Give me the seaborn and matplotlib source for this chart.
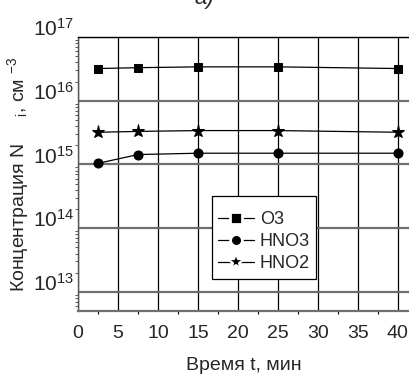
import numpy as np
import pandas as pd
import seaborn as sns
import matplotlib
matplotlib.use("Agg")
import matplotlib.pyplot as plt
from matplotlib.transforms import ScaledTranslation
from matplotlib.ticker import LogLocator, FixedLocator, MultipleLocator, NullFormatter

# ---- data ----
time_min = [2.5, 7.5, 15, 25, 40]
o3 = [3.2e16, 3.3e16, 3.4e16, 3.4e16, 3.2e16]
hno3 = [1.04e15, 1.43e15, 1.5e15, 1.5e15, 1.5e15]
hno2 = [3.2e15, 3.3e15, 3.4e15, 3.4e15, 3.2e15]
series_names = ["O3", "HNO3", "HNO2"]
x_ticks = [0, 5, 10, 15, 20, 25, 30, 35, 40]
y_ticks = [1e13, 1e14, 1e15, 1e16, 1e17]

df = pd.DataFrame({
    "t": time_min * 3,
    "N": o3 + hno3 + hno2,
    "species": [s for s in series_names for _ in time_min],
})

sns.set_theme(style="white")
plt.rcParams["font.family"] = ["Liberation Sans", "DejaVu Sans"]
plt.rcParams["mathtext.fontset"] = "custom"
plt.rcParams["mathtext.rm"] = "Liberation Sans"
plt.rcParams["mathtext.it"] = "Liberation Sans"
plt.rcParams["mathtext.default"] = "regular"

fig = plt.figure(figsize=(4.09, 3.74), dpi=100)
ax = fig.add_axes([78 / 409, 1 - 311 / 374, 331 / 409, 274 / 374])

sns.lineplot(data=df, x="t", y="N", hue="species", style="species",
             palette={s: "black" for s in series_names},
             markers={"O3": "s", "HNO3": "o", "HNO2": "*"},
             dashes=False, markersize=6.5, linewidth=0.9,
             markeredgecolor="black", ax=ax, legend=False)
for ln in ax.lines:
    if ln.get_marker() == "*":
        ln.set_markersize(9.5)
    elif ln.get_marker() == "s":
        ln.set_markersize(6.0)

ax.set_yscale("log")
ax.set_ylim(10 ** 12.7, 1e17)
ax.set_xlim(0, 41.4)

ax.xaxis.set_major_locator(FixedLocator(x_ticks))
ax.xaxis.set_minor_locator(MultipleLocator(2.5))
ax.yaxis.set_major_locator(FixedLocator(y_ticks))
ax.yaxis.set_minor_locator(LogLocator(base=10, subs=np.arange(2, 10), numticks=20))
ax.yaxis.set_minor_formatter(NullFormatter())

ax.grid(False)
ax.xaxis.grid(True, which="major", color="black", linewidth=0.9)
ax.yaxis.grid(True, which="major", color="#6f6f6f", linewidth=1.6)
ax.set_axisbelow(True)

ax.spines["right"].set_visible(False)
ax.spines["top"].set_color("black")
ax.spines["top"].set_linewidth(1.0)
ax.spines["left"].set_color("#555555")
ax.spines["left"].set_linewidth(1.0)
ax.spines["bottom"].set_color("#6f6f6f")
ax.spines["bottom"].set_linewidth(1.6)

ax.tick_params(axis="x", which="major", direction="out", length=3, width=1,
               color="black", labelsize=14, pad=7)
ax.tick_params(axis="x", which="minor", direction="out", length=2, width=0.8,
               color="black", bottom=True)
ax.tick_params(axis="y", which="major", direction="out", length=3, width=1,
               color="#555555", labelsize=15, pad=0)
ax.tick_params(axis="y", which="minor", direction="out", length=2, width=0.7,
               color="#555555", left=True)

ax.set_xlabel("Время t, мин", fontsize=14, labelpad=11)
ax.set_ylabel("Концентрация N     $_{i}$, см $^{-3}$", fontsize=14, labelpad=1)

# y tick labels sit above their grid lines in the original
for lab in ax.get_yticklabels():
    lab.set_transform(lab.get_transform() + ScaledTranslation(0, 10 / 100, fig.dpi_scale_trans))

handles = [plt.Line2D([], [], color="black", linewidth=0.9, marker=m, markersize=ms,
                      markerfacecolor="black", markeredgecolor="white", markeredgewidth=mew)
           for m, ms, mew in zip(["s", "o", "*"], [8.5, 8.5, 13], [2.0, 2.0, 1.6])]
leg = ax.legend(handles, series_names, loc="upper left", bbox_to_anchor=(0.405, 0.42),
                fontsize=13, frameon=True, fancybox=False, edgecolor="black",
                framealpha=1, handlelength=2.0, handletextpad=0.3,
                borderpad=0.35, labelspacing=0.28, borderaxespad=0,
                title=" ", title_fontsize=2)
leg.get_frame().set_linewidth(0.9)

fig.text(0.5, 1 - 9 / 374, "a)", ha="center", va="bottom", fontsize=16, style="italic")

fig.savefig("out.png", dpi=100)
